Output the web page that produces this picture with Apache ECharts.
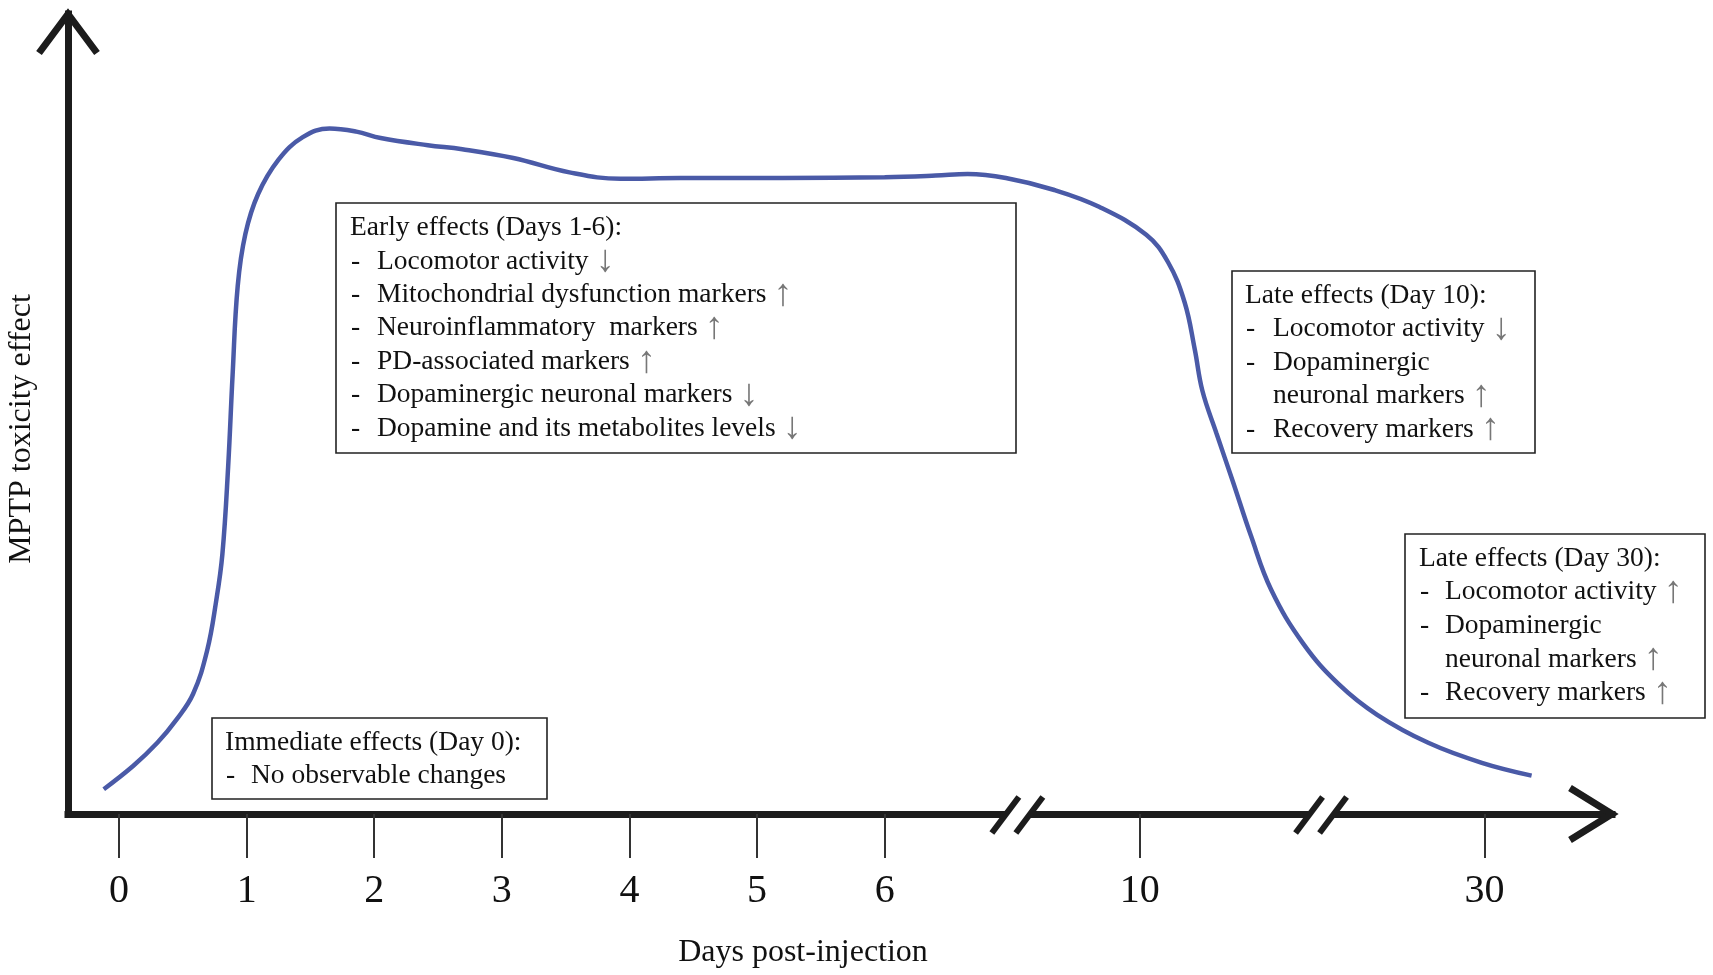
<!DOCTYPE html>
<html>
<head>
<meta charset="utf-8">
<script src="https://cdn.jsdelivr.net/npm/echarts@6/dist/echarts.min.js"></script>
<style>
  html, body { margin: 0; padding: 0; background: #ffffff; }
  #chart { width: 1713px; height: 975px; }
</style>
</head>
<body>
<div id="chart"></div>
<script>
// ---------------- data ----------------
// x positions on the (broken) time axis: 0..6 are days, 8 = day 10, 10.7 = day 30
const xTickPositions = [0, 1, 2, 3, 4, 5, 6, 8, 10.7];
const xTickLabels = ['0', '1', '2', '3', '4', '5', '6', '10', '30'];
const axisBreakPositions = [7.04, 9.42];

const curveX = [-0.12, 0.11, 0.30, 0.45, 0.58, 0.69, 0.76, 0.81, 0.855, 0.89, 0.93, 0.99, 1.09, 1.25, 1.44, 1.65,
  1.86, 2.05, 2.42, 2.69, 3.09, 3.53, 3.93, 4.4, 5.2, 6.0, 6.4, 6.65, 6.95, 7.33, 7.68, 8.05, 8.22, 8.35,
  8.43, 8.49, 8.6, 8.73, 8.87, 9.03, 9.28, 9.56, 9.86, 10.26, 10.68, 11.07];
const curveY = [3.1, 6.0, 8.9, 11.8, 15.0, 20.4, 26.5, 32.5, 43.4, 54.9, 66.0, 72.5, 77.5, 81.8, 84.6, 85.7,
  85.3, 84.5, 83.6, 83.1, 82.0, 80.2, 79.4, 79.5, 79.5, 79.6, 79.8, 80.0, 79.5, 78.0, 75.9, 72.4, 69.0, 64.0,
  58.1, 52.9, 47.6, 41.5, 34.8, 28.0, 21.3, 16.2, 12.4, 8.9, 6.4, 4.8];

const xAxisTitle = 'Days post-injection';
const yAxisTitle = 'MPTP toxicity effect';

const immediateTitle = 'Immediate effects (Day 0):';
const immediateItems = ['No observable changes'];
const earlyTitle = 'Early effects (Days 1-6):';
const earlyItems = ['Locomotor activity ↓', 'Mitochondrial dysfunction markers ↑', 'Neuroinflammatory  markers ↑',
  'PD-associated markers ↑', 'Dopaminergic neuronal markers ↓', 'Dopamine and its metabolites levels ↓'];
const late10Title = 'Late effects (Day 10):';
const late10Items = ['Locomotor activity ↓', 'Dopaminergic\nneuronal markers ↑', 'Recovery markers ↑'];
const late30Title = 'Late effects (Day 30):';
const late30Items = ['Locomotor activity ↑', 'Dopaminergic\nneuronal markers ↑', 'Recovery markers ↑'];

// ---------------- layout / style ----------------
const FONT = "'Liberation Serif', 'Times New Roman', serif";
const AXIS_COLOR = '#1c1c1c';
const LINE_COLOR = '#4a5aa7';
const X_MIN = -0.4, X_MAX = 11.7;
const BOX_FONT = 27.5;

const boxLayout = [
  { title: immediateTitle, items: immediateItems, x: 212, y: 718, w: 335, h: 81, textX: 225, itemX: 251, firstY: 743, lineH: 33 },
  { title: earlyTitle, items: earlyItems, x: 336, y: 203, w: 680, h: 250, textX: 350, itemX: 377, firstY: 228, lineH: 33.4 },
  { title: late10Title, items: late10Items, x: 1232, y: 271, w: 303, h: 182, textX: 1245, itemX: 1273, firstY: 295.5, lineH: 33.5 },
  { title: late30Title, items: late30Items, x: 1405, y: 534, w: 300, h: 184, textX: 1419, itemX: 1445, firstY: 558.5, lineH: 33.6 }
];

const chart = echarts.init(document.getElementById('chart'), null, { renderer: 'canvas' });

const option = {
  animation: false,
  backgroundColor: '#ffffff',
  grid: { left: 68, right: 101, top: 14, bottom: 161, outerBoundsMode: 'none', containLabel: false },
  xAxis: {
    type: 'value',
    min: X_MIN,
    max: X_MAX,
    name: xAxisTitle,
    nameLocation: 'middle',
    nameGap: 123,
    nameTextStyle: { fontFamily: FONT, fontSize: 32, lineHeight: 32, color: '#111', padding: [0, 74, 0, 0] },
    splitLine: { show: false },
    axisLine: { show: true, onZero: false, lineStyle: { color: AXIS_COLOR, width: 7, cap: 'square' } },
    axisTick: { show: true, customValues: xTickPositions, length: 44, lineStyle: { color: '#333', width: 2 } },
    axisLabel: {
      show: true,
      customValues: xTickPositions,
      margin: 57,
      fontFamily: FONT,
      fontSize: 40,
      lineHeight: 40,
      color: '#111',
      formatter: function (v) {
        const i = xTickPositions.findIndex(p => Math.abs(p - v) < 1e-6);
        return i >= 0 ? xTickLabels[i] : '';
      }
    }
  },
  yAxis: {
    type: 'value',
    min: 0,
    max: 100,
    name: yAxisTitle,
    nameLocation: 'middle',
    nameRotate: 90,
    nameGap: 30,
    nameTextStyle: { fontFamily: FONT, fontSize: 32, lineHeight: 32, color: '#111', padding: [0, 30, 0, 0] },
    splitLine: { show: false },
    axisLine: { show: true, onZero: false, lineStyle: { color: AXIS_COLOR, width: 7, cap: 'square' } },
    axisTick: { show: false },
    axisLabel: { show: false }
  },
  series: [{
    type: 'line',
    data: curveX.map((x, i) => [x, curveY[i]]),
    showSymbol: false,
    smooth: 0.4,
    lineStyle: { color: LINE_COLOR, width: 4.5 },
    z: 3
  }]
};

chart.setOption(option);

// ---------------- decorations (arrows, axis breaks, annotation boxes) ----------------
const px = (x, y) => chart.convertToPixel({ gridIndex: 0 }, [x, y]);
const graphics = [];

const xEnd = px(X_MAX, 0);
graphics.push({
  type: 'polyline', z: 100,
  shape: { points: [[xEnd[0] - 42, xEnd[1] - 26], [xEnd[0], xEnd[1]], [xEnd[0] - 42, xEnd[1] + 26]] },
  style: { stroke: AXIS_COLOR, lineWidth: 7, fill: null, lineJoin: 'miter', lineCap: 'butt' }
});
const yEnd = px(X_MIN, 100);
graphics.push({
  type: 'polyline', z: 100,
  shape: { points: [[yEnd[0] - 29, yEnd[1] + 39], [yEnd[0], yEnd[1]], [yEnd[0] + 29, yEnd[1] + 39]] },
  style: { stroke: AXIS_COLOR, lineWidth: 7, fill: null, lineJoin: 'miter', lineCap: 'butt' }
});

axisBreakPositions.forEach(function (b) {
  const c = px(b, 0);
  const c1 = c[0] - 12, c2 = c[0] + 12, cy = c[1] + 1;
  graphics.push({
    type: 'polygon', z: 100,
    shape: { points: [[c1 - 5, cy + 7], [c2 - 5, cy + 7], [c2 + 5, cy - 7], [c1 + 5, cy - 7]] },
    style: { fill: '#ffffff', stroke: null }
  });
  [c1, c2].forEach(function (cx) {
    graphics.push({
      type: 'line', z: 101,
      shape: { x1: cx - 13.5, y1: cy + 18, x2: cx + 13.5, y2: cy - 18 },
      style: { stroke: AXIS_COLOR, lineWidth: 6, lineCap: 'butt' }
    });
  });
});

const richStyles = {
  t: { fontFamily: FONT, fontSize: BOX_FONT, lineHeight: 34, fill: '#111', color: '#111' },
  a: { fontFamily: FONT, fontSize: 38, lineHeight: 34, fill: '#777', color: '#777' }
};
function richLine(s) {
  const m = s.match(/^(.*?)(\s*)([↑↓])$/);
  if (m) return '{t|' + m[1] + m[2] + '}{a|' + m[3] + '}';
  return '{t|' + s + '}';
}
function textEl(x, y, s) {
  return {
    type: 'text', z: 102,
    style: {
      x: x, y: y, text: richLine(s), rich: richStyles,
      fontFamily: FONT, fontSize: BOX_FONT, fill: '#111',
      align: 'left', verticalAlign: 'middle'
    }
  };
}

boxLayout.forEach(function (b) {
  graphics.push({
    type: 'rect', z: 99,
    shape: { x: b.x, y: b.y, width: b.w, height: b.h },
    style: { fill: '#ffffff', stroke: '#222', lineWidth: 1.6 }
  });
  graphics.push(textEl(b.textX, b.firstY, b.title));
  let line = 1;
  b.items.forEach(function (item) {
    const parts = item.split('\n');
    parts.forEach(function (p, j) {
      const y = b.firstY + line * b.lineH;
      if (j === 0) graphics.push(textEl(b.textX + 1, y, '-'));
      graphics.push(textEl(b.itemX, y, p));
      line++;
    });
  });
});

chart.setOption({ graphic: graphics });
</script>
</body>
</html>
